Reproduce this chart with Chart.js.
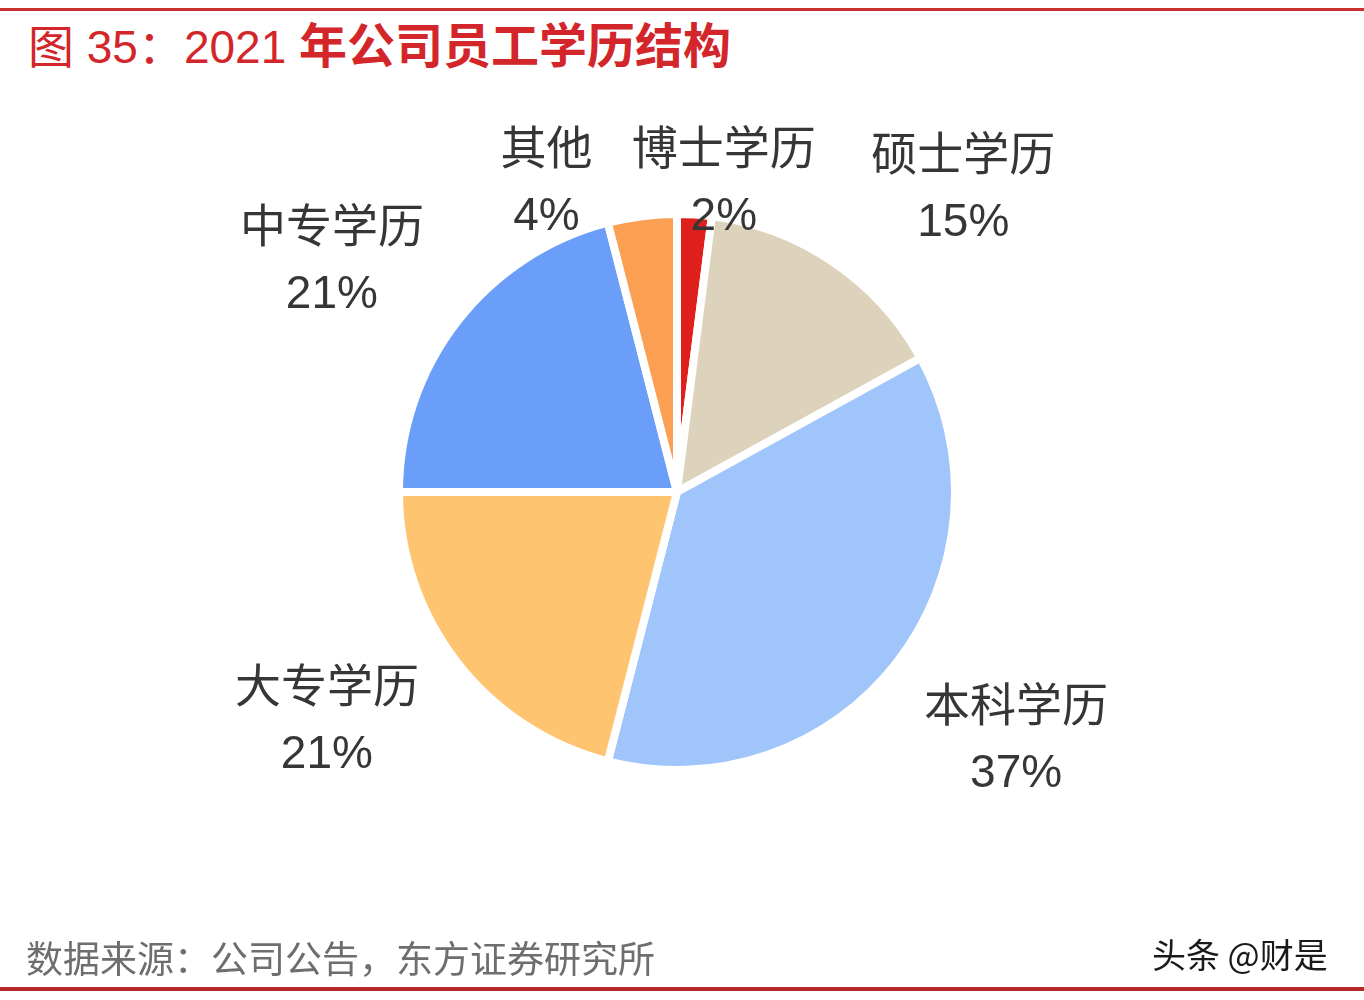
<!DOCTYPE html>
<html>
<head>
<meta charset="utf-8">
<script src="https://cdn.jsdelivr.net/npm/chart.js@4.4.0/dist/chart.umd.min.js"></script>
<style>
  html, body { margin: 0; padding: 0; background: #fff; }
  #wrap { position: relative; width: 1364px; height: 1000px; overflow: hidden; background: #fff; }
  #pie { position: absolute; left: 0; top: 0; }
  .rule { position: absolute; left: 0; width: 1364px; }
  .rule.top { top: 8px; height: 3px; background: #c9302f; }
  .rule.bottom { top: 987px; height: 4px; background: #b5292a; }
  .title {
    position: absolute; left: 28px; top: 19px; white-space: nowrap;
    font-family: "Liberation Sans", "Noto Sans CJK SC", sans-serif;
    font-size: 46px; line-height: 56px; color: #d3262b;
  }
  .title b { font-weight: bold; font-size: 48px; }
  .source {
    position: absolute; left: 26px; top: 934px; white-space: nowrap;
    font-family: "Noto Sans CJK SC", sans-serif; font-size: 37px; line-height: 46px;
    color: #6e6e6e;
  }
  .mark {
    position: absolute; left: 1152px; top: 931px; white-space: nowrap;
    font-family: "Noto Sans CJK SC", sans-serif; font-size: 34px; line-height: 46px;
    color: #1a1a1a; text-shadow: 0 0 2px #fff;
  }
</style>
</head>
<body>
<div id="wrap">
  <div class="rule top"></div>
  <div class="title"><span>图 35：2021 </span><b>年公司员工学历结构</b></div>
  <canvas id="pie" width="1364" height="1000" style="width:1364px;height:1000px"></canvas>
  <div class="source">数据来源：公司公告，东方证券研究所</div>
  <div class="mark">头条 @财是</div>
  <div class="rule bottom"></div>
</div>
<script>
// ── Data ──────────────────────────────────────────────────────────
const categories = ['博士学历', '硕士学历', '本科学历', '大专学历', '中专学历', '其他'];
const shares = [2, 15, 37, 21, 21, 4];
const sliceColors = ['#de1f1c', '#ddd3bd', '#a0c5fa', '#fec46f', '#6a9ef8', '#fb9f53'];

// ── Outside labels (name + percent) ───────────────────────────────
const labelFont = '"Liberation Sans", "Noto Sans CJK SC", sans-serif';
// shift of each label block from its mid-angle anchor
const labelNudge = [[21, 103], [55, 39], [14, -3], [-25, -22], [-20, 22], [-79, 101]];

const outsideLabels = {
    id: 'outsideLabels',
    afterDatasetsDraw(chart) {
        const ctx = chart.ctx;
        const meta = chart.getDatasetMeta(0);
        ctx.save();
        ctx.fillStyle = '#363636';
        ctx.textAlign = 'center';
        ctx.textBaseline = 'middle';
        ctx.font = '46px ' + labelFont;
        meta.data.forEach((el, i) => {
            const mid = (el.startAngle + el.endAngle) / 2;
            const r = el.outerRadius * 1.48;
            const cx = el.x + Math.cos(mid) * r + labelNudge[i][0];
            const cy = el.y + Math.sin(mid) * r + labelNudge[i][1];
            ctx.fillText(categories[i], cx, cy - 33);
            ctx.fillText(shares[i] + '%', cx, cy + 33);
        });
        ctx.restore();
    }
};

new Chart(document.getElementById('pie'), {
    type: 'pie',
    data: {
        labels: categories,
        datasets: [{
            data: shares,
            backgroundColor: sliceColors,
            borderColor: '#ffffff',
            borderWidth: 8,
            hoverBorderWidth: 8,
            hoverOffset: 0,
            radius: 278,
        }]
    },
    options: {
        responsive: false,
        animation: false,
        events: [],
        layout: { padding: { left: 100, right: 110, top: 100, bottom: 116 } },
        plugins: {
            legend: { display: false },
            tooltip: { enabled: false },
            title: { display: false }
        }
    },
    plugins: [outsideLabels]
});
</script>
</body>
</html>
